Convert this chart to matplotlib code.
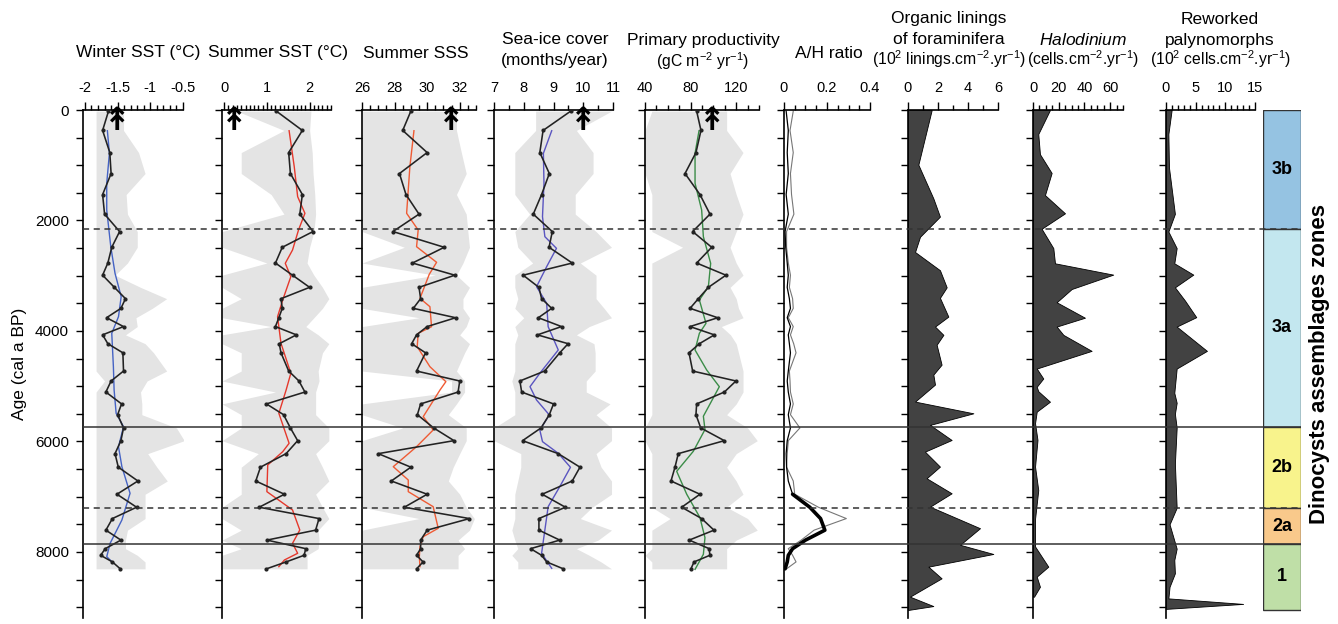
import matplotlib
matplotlib.use("Agg")
import matplotlib.pyplot as plt
from matplotlib.ticker import FixedLocator, MultipleLocator, FuncFormatter

plt.rcParams['font.family'] = ['Liberation Sans', 'DejaVu Sans']
plt.rcParams['mathtext.fontset'] = 'custom'
plt.rcParams['mathtext.rm'] = 'Liberation Sans'
plt.rcParams['mathtext.it'] = 'Liberation Sans:italic'
plt.rcParams['axes.unicode_minus'] = False

# ---- sample ages (cal a BP) shared by the dinocyst reconstructions ----
ages = [20, 370, 770, 1150, 1530, 1885, 2200, 2485, 2770, 2990,
        3210, 3415, 3590, 3760, 3920, 4070, 4230, 4395, 4725, 4905,
        5105, 5320, 5515, 5755, 5985, 6220, 6465, 6715, 6955, 7190,
        7395, 7605, 7785, 7940, 8060, 8180, 8305]

# Winter SST
winter_sst = [-1.64, -1.73, -1.62, -1.60, -1.73, -1.70, -1.47, -1.59, -1.65, -1.73,
              -1.55, -1.38, -1.45, -1.67, -1.41, -1.73, -1.65, -1.42, -1.41, -1.60,
              -1.68, -1.44, -1.50, -1.41, -1.45, -1.54, -1.49, -1.19, -1.51, -1.21,
              -1.58, -1.68, -1.45, -1.69, -1.76, -1.58, -1.46]
winter_min = [-1.83, -1.83, -1.83, -1.83, -1.83, -1.83, -1.83, -1.83, -1.83, -1.83,
              -1.83, -1.83, -1.83, -1.83, -1.83, -1.83, -1.83, -1.83, -1.83, -1.70,
              -1.83, -1.83, -1.83, -1.83, -1.83, -1.83, -1.83, -1.83, -1.83, -1.83,
              -1.83, -1.83, -1.83, -1.83, -1.83, -1.83, -1.83]
winter_max = [-1.41, -1.41, -1.18, -1.08, -1.37, -1.35, -1.20, -1.20, -1.35, -1.54,
              -1.15, -0.75, -0.97, -1.22, -1.20, -1.38, -1.08, -0.95, -0.75, -1.05,
              -1.15, -1.13, -1.13, -0.60, -0.48, -1.04, -0.90, -0.74, -1.08, -1.08,
              -1.08, -1.35, -1.38, -1.38, -1.20, -1.08, -1.08]
winter_smooth_age = [375, 784, 1327, 1810, 2474, 2956, 3379, 3741, 4042, 4646,
                     5068, 5490, 5732, 6094, 6456, 6938, 7421, 7843, 8085, 8205]
winter_smooth = [-1.657, -1.626, -1.667, -1.667, -1.605, -1.54, -1.446, -1.487, -1.59, -1.565,
                 -1.554, -1.523, -1.41, -1.487, -1.435, -1.31, -1.435, -1.615, -1.667, -1.564]

# Summer SST
summer_sst = [1.22, 1.83, 1.51, 1.55, 1.83, 1.77, 2.08, 1.36, 1.20, 1.60,
              2.00, 1.33, 1.36, 1.28, 1.20, 1.69, 1.29, 1.33, 1.51, 1.75,
              1.89, 0.99, 1.39, 1.55, 1.72, 1.45, 0.85, 0.74, 1.41, 0.82,
              2.22, 2.14, 1.00, 1.91, 1.87, 1.45, 0.99]
summer_min = [0.3, 1.4, 0.4, 0.4, 1.1, 1.4, -0.05, -0.05, 1.0, -0.05,
              -0.05, 0.4, -0.05, -0.05, 1.1, -0.05, -0.05, 0.4, 0.4, -0.05,
              1.2, -0.05, 0.4, 0.4, -0.05, 0.8, 0.4, 0.4, 0.4, -0.05,
              -0.05, 0.4, -0.05, 0.4, -0.05, -0.05, -0.05]
summer_max = [2.03, 2.0, 2.06, 2.08, 2.12, 2.14, 2.1, 2.0, 1.94, 2.1,
              2.3, 2.45, 2.3, 2.1, 1.91, 2.2, 2.45, 2.3, 2.2, 2.22,
              2.14, 2.14, 2.14, 2.45, 2.45, 2.14, 2.3, 2.45, 2.14, 2.3,
              2.45, 2.2, 2.22, 2.2, 1.94, 1.94, 1.94]
summer_smooth_age = [375, 1026, 1569, 1870, 2172, 2534, 2775, 3017, 3439, 3741,
                     4223, 4766, 5068, 5490, 6033, 6185, 6425, 6908, 7240, 7602,
                     7843, 8024, 8145, 8266]
summer_smooth = [1.52, 1.64, 1.72, 1.89, 1.74, 1.60, 1.43, 1.56, 1.37, 1.25,
                 1.33, 1.56, 1.45, 1.28, 1.52, 1.37, 1.02, 1.00, 1.60, 1.77,
                 1.60, 1.72, 1.41, 1.28]

# Summer SSS
summer_sss = [29.0, 28.5, 30.0, 28.3, 28.7, 29.5, 27.9, 31.05, 29.1, 31.7,
              29.5, 29.6, 29.15, 31.75, 30.0, 29.35, 29.05, 29.9, 29.35, 32.0,
              31.9, 29.6, 29.4, 30.4, 31.65, 27.0, 29.0, 27.8, 30.0, 28.6,
              32.6, 30.0, 29.6, 29.6, 29.35, 29.75, 29.35]
sss_min = [26, 26, 26, 26, 26, 26, 26, 28.6, 26, 30.5,
           26, 26, 26, 29.5, 26, 26, 26, 26, 26, 31.5,
           31.5, 26, 26, 28.5, 26, 26, 26, 26, 26, 26,
           29.5, 26, 26, 26, 26, 26, 26]
sss_max = [31.8, 31.8, 32.1, 32.4, 31.8, 32.4, 32.5, 32.6, 32.2, 31.8,
           32.6, 32.2, 32.2, 32.6, 32.4, 32.0, 32.6, 32.3, 31.8, 32.3,
           32.3, 31.8, 31.3, 32.4, 32.4, 32.0, 31.6, 31.3, 32.0, 32.4,
           32.9, 32.6, 31.9, 32.3, 31.9, 31.9, 31.9]
sss_smooth_age = [375, 1026, 1870, 2172, 2474, 2757, 2974, 3409, 3560, 3922,
                  4042, 4284, 4646, 4917, 5068, 5550, 5792, 6094, 6456, 6697,
                  6908, 7180, 7571, 7723, 7904, 8085, 8266]
sss_smooth = [29.19, 28.94, 28.74, 29.45, 29.35, 30.58, 30.13, 29.56, 30.17, 30.27,
              29.45, 29.39, 30.17, 31.15, 30.79, 29.76, 30.37, 29.35, 27.92, 28.84,
              28.84, 30.37, 30.68, 29.76, 29.56, 29.52, 29.56]

# Sea-ice cover
sea_ice = [9.58, 8.65, 8.54, 8.86, 8.60, 8.32, 8.96, 8.85, 9.63, 7.98,
           8.51, 8.60, 8.94, 8.49, 9.27, 8.46, 9.49, 9.21, 8.70, 7.87,
           7.93, 9.00, 8.86, 8.58, 7.96, 9.16, 9.89, 9.63, 8.62, 9.40,
           8.51, 8.51, 9.21, 8.23, 8.60, 8.77, 9.33]
ice_min = [8.4, 8.4, 7.7, 7.7, 7.7, 8.2, 7.7, 7.8, 8.3, 7.7,
           7.7, 7.8, 7.7, 8.0, 7.7, 7.8, 7.7, 7.7, 7.7, 7.6,
           7.7, 7.7, 7.7, 7.0, 7.0, 7.9, 7.9, 7.8, 7.7, 7.7,
           7.7, 7.6, 7.7, 7.8, 7.6, 7.8, 7.8]
ice_max = [10.95, 9.77, 10.33, 10.33, 9.73, 9.73, 10.43, 10.95, 9.9, 10.43,
           10.43, 10.43, 10.7, 10.95, 10.2, 9.77, 10.36, 10.4, 10.4, 10.1,
           10.1, 10.9, 10.43, 10.95, 10.95, 10.43, 10.6, 10.95, 10.95, 10.3,
           9.9, 10.95, 10.5, 9.77, 10.2, 10.6, 10.95]
ice_smooth_age = [375, 784, 1327, 1931, 2293, 2504, 2836, 3198, 3499, 3922,
                  4344, 4766, 5008, 5249, 5520, 5792, 6003, 6214, 6467, 6818,
                  7180, 7602, 8024, 8296]
ice_smooth = [8.94, 8.66, 8.68, 8.63, 8.71, 9.10, 8.77, 8.43, 8.77, 8.82,
              9.16, 8.54, 8.21, 8.43, 8.86, 8.54, 8.63, 9.16, 9.57, 9.21,
              8.82, 8.71, 8.60, 8.94]

# Primary productivity
productivity = [85.3, 89.1, 84.7, 75.1, 88.2, 97.0, 81.8, 98.5, 85.3, 111.0,
                95.6, 86.8, 79.5, 103.8, 79.5, 100.8, 87.7, 78.6, 81.8, 119.8,
                109.6, 85.3, 84.7, 88.9, 109.6, 69.2, 66.3, 62.8, 88.2, 72.2,
                89.7, 100.5, 78.8, 96.3, 96.9, 83.0, 80.3]
prod_min = [46, 40, 40, 40, 46, 46, 46, 73, 46, 46,
            46, 46, 46, 46, 46, 46, 46, 46, 46, 46,
            46, 46, 46, 40, 40, 46, 46, 46, 46, 46,
            62, 46, 46, 46, 40, 46, 46]
prod_max = [111.6, 111.6, 126, 114.6, 120, 126, 120, 114.6, 120, 126,
            114.6, 120, 122, 126, 107, 115, 120, 122, 126, 126,
            126, 120, 111.6, 130, 138.5, 120, 111.6, 120, 126, 111.6,
            130, 138.5, 120, 111.6, 111.6, 111.6, 111.6]
prod_smooth_age = [375, 784, 1327, 1810, 2293, 2775, 3198, 3439, 3861, 4042,
                   4344, 4706, 5008, 5543, 5785, 6177, 6540, 6955, 7377, 7740,
                   8042, 8315]
prod_smooth = [87.4, 83.9, 83.9, 89.7, 91.2, 97.6, 95.6, 87.7, 93.5, 87.7,
               83.9, 94.1, 105.2, 91.2, 92.6, 82.4, 67.8, 76.6, 88.2, 92.6,
               91.2, 83.9]

# A/H ratio (thin grey and black curves)
ah_grey = [0.043, 0.028, 0.043, 0.03, 0.035, 0.046, 0.012, 0.012, 0.02, 0.03,
           0.025, 0.04, 0.043, 0.02, 0.043, 0.03, 0.045, 0.056, 0.025, 0.028,
           0.03, 0.043, 0.03, 0.074, 0.02, 0.015, 0.012, 0.043, 0.05, 0.16,
           0.29, 0.14, 0.08, 0.02, 0.04, 0.056, 0.012]
ah_black = [0.01, 0.02, 0.015, 0.02, 0.01, 0.02, 0.005, 0.008, 0.015, 0.02,
            0.015, 0.025, 0.03, 0.015, 0.03, 0.02, 0.025, 0.03, 0.02, 0.015,
            0.02, 0.03, 0.02, 0.03, 0.015, 0.01, 0.012, 0.02, 0.04, 0.12,
            0.17, 0.19, 0.1, 0.04, 0.02, 0.015, 0.005]

# Organic linings of foraminifera (10^2 linings/cm2/yr)
forams_age = [0, 990, 1600, 1930, 2295, 2570, 2900, 3210, 3400, 3740,
              3920, 4070, 4250, 4610, 4790, 4970, 5278, 5490, 5700, 5973,
              6184, 6455, 6666, 6938, 7180, 7570, 7870, 8036, 8266, 8477,
              8809, 8979, 9050]
forams = [1.58, 0.69, 1.69, 2.13, 0.8, 0.47, 2.13, 2.58, 2.13, 2.69,
          1.8, 2.36, 1.91, 2.24, 1.69, 1.8, 0.47, 4.36, 1.47, 2.91,
          1.13, 2.13, 1.24, 2.91, 1.47, 4.8, 3.47, 5.69, 1.36, 2.24,
          0.13, 1.69, 0.0]

# Halodinium (cells/cm2/yr)
halo_age = [0, 435, 800, 1140, 1540, 1870, 2150, 2500, 2775, 2980,
            3240, 3480, 3760, 3920, 4070, 4360, 4680, 4860, 5010, 5090,
            5280, 5460, 5670, 5973, 6455, 6880, 7400, 7900, 8266, 8446,
            8630, 8810]
halo = [13.2, 4.1, 5.4, 14.5, 9.3, 24.9, 6.7, 15.8, 17.1, 62.4,
        30.1, 18.4, 40.4, 18.4, 23.6, 45.6, 2.9, 8.0, 2.9, 4.1,
        13.2, 2.9, 1.6, 3.5, 1.6, 4.1, 1.6, 1.6, 11.9, 2.9,
        5.4, 0.8]

# Reworked palynomorphs (10^2 cells/cm2/yr)
rework_age = [0, 435, 1040, 1880, 2200, 2500, 2775, 2980, 3210, 3450,
              3750, 3920, 4360, 4680, 5120, 5300, 5500, 5750, 6400, 7200,
              7500, 7940, 8145, 8386, 8630, 8840, 8940, 9030]
rework = [0.95, 0.4, 0.5, 1.5, 0.4, 1.8, 1.4, 4.6, 1.5, 3.2,
          5.1, 1.8, 6.9, 1.8, 1.4, 1.8, 1.5, 1.8, 1.5, 1.8,
          0.6, 1.8, 1.4, 1.5, 0.6, 0.4, 13.0, 0.0]

# modern values (arrows)
modern = {"winter": -1.5, "summer": 0.25, "sss": 31.5, "ice": 10, "prod": 99}

# dinocyst assemblage zones
zone_edges = [0, 2150, 5740, 7210, 7855, 9050]
zone_names = ["3b", "3a", "2b", "2a", "1"]
zone_colors = ["#95c3e2", "#c3e7ef", "#f8f38c", "#f9c98b", "#bfdfa7"]
zone_line_styles = ["--", "-", "--", "-"]   # boundaries 2150, 5740, 7210, 7855

# ---------------------------------------------------------------
W, H = 1338, 624
TOP, BOT = 110, 618
YMAX = 9195
ENV = "#e4e4e4"

fig = plt.figure(figsize=(W / 100, H / 100), dpi=100)


def panel(left, right, xlim, major, minor, first=False):
    ax = fig.add_axes([left / W, 1 - BOT / H, (right - left) / W, (BOT - TOP) / H])
    ax.set_xlim(*xlim)
    ax.set_ylim(YMAX, 0)
    for s in ("right", "bottom"):
        ax.spines[s].set_visible(False)
    for s in ("top", "left"):
        ax.spines[s].set_linewidth(1.2)
    ax.xaxis.set_major_locator(FixedLocator(major))
    ax.xaxis.set_minor_locator(MultipleLocator(minor))
    ax.xaxis.set_major_formatter(FuncFormatter(lambda v, p: f"{v:g}"))
    ax.tick_params(axis="x", which="both", top=True, bottom=False,
                   labeltop=True, labelbottom=False, direction="out", width=1.0)
    ax.tick_params(axis="x", which="major", length=6, labelsize=10.5, pad=5)
    ax.tick_params(axis="x", which="minor", length=3.5)
    ax.yaxis.set_major_locator(MultipleLocator(500))
    ax.tick_params(axis="y", which="major", length=5, width=1.0, direction="out",
                   labelsize=11, labelleft=first, pad=5)
    if first:
        ax.yaxis.set_major_formatter(
            FuncFormatter(lambda v, p: f"{v:.0f}" if v % 2000 == 0 else ""))
    ax.patch.set_alpha(0)
    return ax


def recon(ax, vals, vmin, vmax, s_age, s_val, color, mod):
    ax.fill_betweenx(ages, vmin, vmax, color=ENV, lw=0, zorder=0)
    ax.plot(s_val, s_age, color=color, lw=1.0, zorder=2)
    ax.plot(vals, ages, color="#222222", lw=1.15, marker="o", ms=2, zorder=3)
    ax.text(mod, -70, "\u219f", ha="center", va="top", fontsize=23,
            fontweight="bold", family="DejaVu Sans", zorder=4)


ax1 = panel(83, 183, (-2.03, -0.5), [-2, -1.5, -1, -0.5], 0.1, first=True)
recon(ax1, winter_sst, winter_min, winter_max, winter_smooth_age, winter_smooth,
      "#4563c4", modern["winter"])
ax1.set_ylabel("Age (cal a BP)", fontsize=12.5, labelpad=6)

ax2 = panel(222, 331, (-0.05, 2.5), [0, 1, 2], 0.1)
recon(ax2, summer_sst, summer_min, summer_max, summer_smooth_age, summer_smooth,
      "#e5382c", modern["summer"])

ax3 = panel(362, 476, (26, 33), [26, 28, 30, 32], 0.5)
recon(ax3, summer_sss, sss_min, sss_max, sss_smooth_age, sss_smooth,
      "#ef5b34", modern["sss"])

ax4 = panel(494, 613, (7, 11), [7, 8, 9, 10, 11], 0.5)
recon(ax4, sea_ice, ice_min, ice_max, ice_smooth_age, ice_smooth,
      "#5a55c0", modern["ice"])

ax5 = panel(645, 759, (40, 140), [40, 80, 120], 10)
recon(ax5, productivity, prod_min, prod_max, prod_smooth_age, prod_smooth,
      "#3b8c48", modern["prod"])

ax6 = panel(784, 870, (0, 0.4), [0, 0.2, 0.4], 0.05)
ax6.plot(ah_grey, ages, color="#777777", lw=0.8)
ax6.plot(ah_black, ages, color="black", lw=0.9)
ax6.plot(ah_black[28:], ages[28:], color="black", lw=2.6, solid_capstyle="round")

ax7 = panel(908, 998, (0, 6), [0, 2, 4, 6], 1)
ax7.fill_betweenx(forams_age, 0, forams, facecolor="#424242", edgecolor="black", lw=0.6)

ax8 = panel(1033, 1123, (0, 70), [0, 20, 40, 60], 5)
ax8.fill_betweenx(halo_age, 0, halo, facecolor="#424242", edgecolor="black", lw=0.6)

ax9 = panel(1166, 1255, (0, 15), [0, 5, 10, 15], 1)
ax9.fill_betweenx(rework_age, 0, rework, facecolor="#424242", edgecolor="black", lw=0.6)

# zone column
axz = fig.add_axes([1263 / W, 1 - BOT / H, (1301 - 1263) / W, (BOT - TOP) / H])
axz.set_xlim(0, 1)
axz.set_ylim(YMAX, 0)
axz.axis("off")
for i, name in enumerate(zone_names):
    top, bot = zone_edges[i], zone_edges[i + 1]
    axz.axhspan(top, bot, xmin=0, xmax=1, facecolor=zone_colors[i],
                edgecolor="#333333", lw=1.0)
    axz.text(0.5, (top + bot) / 2, name, ha="center", va="center",
             fontsize=13, fontweight="bold")

# zone boundaries across all panels
ov = fig.add_axes([83 / W, 1 - BOT / H, (1301 - 83) / W, (BOT - TOP) / H], zorder=10)
ov.set_xlim(0, 1)
ov.set_ylim(YMAX, 0)
ov.axis("off")
for b, ls in zip(zone_edges[1:-1], zone_line_styles):
    ov.axhline(b, color="#333333", lw=1.1, ls=ls, dashes=(4, 3) if ls == "--" else (None, None))

# titles: one entry per panel, lines top to bottom
titles = [
    (138, ["Winter SST (°C)"]),
    (278, ["Summer SST (°C)"]),
    (416, ["Summer SSS"]),
    (555, ["Sea-ice cover", "(months/year)"]),
    (703, ["Primary productivity", "(gC m$^{-2}$ yr$^{-1}$)"]),
    (829, ["A/H ratio"]),
    (949, ["Organic linings", "of foraminifera", "(10$^{2}$ linings.cm$^{-2}$.yr$^{-1}$)"]),
    (1083, ["$\\it{Halodinium}$", "(cells.cm$^{-2}$.yr$^{-1}$)"]),
    (1220, ["Reworked", "palynomorphs", "(10$^{2}$ cells.cm$^{-2}$.yr$^{-1}$)"]),
]
line_y = {1: [53], 2: [40, 61], 3: [19, 40, 59]}
for x, lines in titles:
    n = len(lines)
    if n == 2 and "cells" in lines[-1]:
        ys = [40, 59]
    else:
        ys = line_y[n]
    for line, y in zip(lines, ys):
        size = 11.3 if "^{-" in line else 12.5
        fig.text(x / W, 1 - y / H, line, ha="center", va="center", fontsize=size)

fig.text(1320 / W, 1 - 364 / H, "Dinocysts assemblages zones", rotation=90,
         ha="center", va="center", fontsize=16, fontweight="bold")

fig.savefig("out.png", dpi=100)
